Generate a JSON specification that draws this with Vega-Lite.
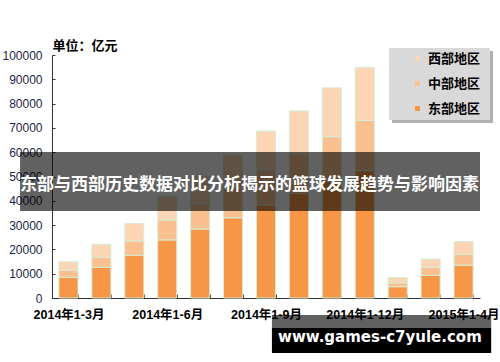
{
  "$schema": "https://vega.github.io/schema/vega-lite/v6.json",
  "width": 428,
  "height": 243,
  "autosize": {"type": "none"},
  "padding": {"left": 52, "top": 55, "right": 20, "bottom": 64},
  "background": "white",
  "config": {"view": {"stroke": null}, "font": "Liberation Sans, Noto Sans CJK SC"},
  "layer": [
    {
      "data": {"values": [{}]},
      "mark": {"type": "rect", "color": "#6f6f6f", "opacity": 0.55},
      "encoding": {
        "x": {"datum": 10.327, "type": "quantitative", "scale": {"domain": [0, 13], "nice": false, "zero": false}, "axis": null},
        "x2": {"datum": 13.395},
        "y": {"datum": 101646, "type": "quantitative", "scale": {"domain": [0, 100000], "nice": false}, "axis": null},
        "y2": {"datum": 72016}
      }
    },
    {
      "data": {"values": [{}]},
      "mark": {"type": "rect", "color": "#D9D9D9", "opacity": 1},
      "encoding": {
        "x": {"datum": 10.236, "type": "quantitative", "scale": {"domain": [0, 13], "nice": false, "zero": false}, "axis": null},
        "x2": {"datum": 13.304},
        "y": {"datum": 102881, "type": "quantitative", "scale": {"domain": [0, 100000], "nice": false}, "axis": null},
        "y2": {"datum": 73251}
      }
    },
    {
      "data": {
        "values": [
          {"period": "2014年1-3月", "region": "东部地区", "value": 8500},
          {"period": "2014年1-3月", "region": "中部地区", "value": 2900},
          {"period": "2014年1-3月", "region": "西部地区", "value": 3500},
          {"period": "2014年1-4月", "region": "东部地区", "value": 12600},
          {"period": "2014年1-4月", "region": "中部地区", "value": 4150},
          {"period": "2014年1-4月", "region": "西部地区", "value": 5350},
          {"period": "2014年1-5月", "region": "东部地区", "value": 17600},
          {"period": "2014年1-5月", "region": "中部地区", "value": 5850},
          {"period": "2014年1-5月", "region": "西部地区", "value": 7150},
          {"period": "2014年1-6月", "region": "东部地区", "value": 23900},
          {"period": "2014年1-6月", "region": "中部地区", "value": 8300},
          {"period": "2014年1-6月", "region": "西部地区", "value": 9500},
          {"period": "2014年1-7月", "region": "东部地区", "value": 28400},
          {"period": "2014年1-7月", "region": "中部地区", "value": 10400},
          {"period": "2014年1-7月", "region": "西部地区", "value": 11200},
          {"period": "2014年1-8月", "region": "东部地区", "value": 33000},
          {"period": "2014年1-8月", "region": "中部地区", "value": 12000},
          {"period": "2014年1-8月", "region": "西部地区", "value": 13800},
          {"period": "2014年1-9月", "region": "东部地区", "value": 38300},
          {"period": "2014年1-9月", "region": "中部地区", "value": 14400},
          {"period": "2014年1-9月", "region": "西部地区", "value": 16000},
          {"period": "2014年1-10月", "region": "东部地区", "value": 43000},
          {"period": "2014年1-10月", "region": "中部地区", "value": 16300},
          {"period": "2014年1-10月", "region": "西部地区", "value": 17700},
          {"period": "2014年1-11月", "region": "东部地区", "value": 48000},
          {"period": "2014年1-11月", "region": "中部地区", "value": 18400},
          {"period": "2014年1-11月", "region": "西部地区", "value": 20100},
          {"period": "2014年1-12月", "region": "东部地区", "value": 52400},
          {"period": "2014年1-12月", "region": "中部地区", "value": 20700},
          {"period": "2014年1-12月", "region": "西部地区", "value": 21800},
          {"period": "2015年1-2月", "region": "东部地区", "value": 4650},
          {"period": "2015年1-2月", "region": "中部地区", "value": 1650},
          {"period": "2015年1-2月", "region": "西部地区", "value": 2100},
          {"period": "2015年1-3月", "region": "东部地区", "value": 9300},
          {"period": "2015年1-3月", "region": "中部地区", "value": 3300},
          {"period": "2015年1-3月", "region": "西部地区", "value": 3400},
          {"period": "2015年1-4月", "region": "东部地区", "value": 13500},
          {"period": "2015年1-4月", "region": "中部地区", "value": 4500},
          {"period": "2015年1-4月", "region": "西部地区", "value": 5200}
        ]
      },
      "transform": [
        {"calculate": "indexof(['东部地区','中部地区','西部地区'], datum.region)", "as": "stackOrder"}
      ],
      "mark": {"type": "bar", "stroke": "#D5EDD5", "strokeWidth": 1},
      "encoding": {
        "x": {
          "field": "period",
          "type": "nominal",
          "sort": null,
          "scale": {"paddingInner": 0.42, "paddingOuter": 0.21},
          "axis": {
            "title": null,
            "labelAngle": 0,
            "tickBand": "extent",
            "labelExpr": "indexof(['2014年1-3月','2014年1-6月','2014年1-9月','2014年1-12月','2015年1-4月'], datum.value) >= 0 ? datum.value : ''",
            "labelOverlap": false,
            "labelFlush": false,
            "labelFont": "Liberation Sans, Noto Sans CJK SC",
            "labelFontWeight": "bold",
            "labelFontSize": 12.5,
            "labelColor": "black",
            "tickSize": -4,
            "labelPadding": 14,
            "domainColor": "#333333",
            "tickColor": "#333333",
            "grid": false
          }
        },
        "y": {
          "field": "value",
          "type": "quantitative",
          "stack": "zero",
          "scale": {"domain": [0, 100000], "nice": false},
          "axis": {
            "values": [0, 10000, 20000, 30000, 40000, 50000, 60000, 70000, 80000, 90000, 100000],
            "format": "d",
            "grid": false,
            "domainColor": "#333333",
            "tickColor": "#333333",
            "tickSize": -3,
            "labelPadding": 13,
            "labelFont": "Liberation Sans",
            "labelFontSize": 12,
            "labelColor": "#1b1f45",
            "title": "单位：亿元",
            "titleAngle": 0,
            "titleX": 0,
            "titleY": -10,
            "titleAlign": "left",
            "titleBaseline": "middle",
            "titleFont": "Noto Sans CJK SC",
            "titleFontSize": 13,
            "titleFontWeight": "bold",
            "titleColor": "black"
          }
        },
        "color": {
          "field": "region",
          "type": "nominal",
          "scale": {"domain": ["西部地区", "中部地区", "东部地区"], "range": ["#FCD5B5", "#FAC090", "#F79646"]},
          "legend": {
            "title": null,
            "orient": "none",
            "legendX": 359,
            "legendY": -3,
            "padding": 0,
            "symbolType": "square",
            "symbolSize": 25,
            "symbolStrokeWidth": 0,
            "labelFont": "Noto Sans CJK SC",
            "labelFontWeight": "bold",
            "labelFontSize": 13,
            "labelColor": "black",
            "labelOffset": 4,
            "rowPadding": 11
          }
        },
        "order": {"field": "stackOrder", "type": "quantitative"}
      }
    },
    {
      "data": {"values": [{}]},
      "mark": {"type": "rect", "color": "black", "opacity": 0.62},
      "encoding": {
        "x": {"datum": -0.97, "type": "quantitative", "scale": {"domain": [0, 13], "nice": false, "zero": false}, "axis": null},
        "x2": {"datum": 13},
        "y": {"datum": 60080, "type": "quantitative", "scale": {"domain": [0, 100000], "nice": false}, "axis": null},
        "y2": {"datum": 35800}
      }
    },
    {
      "data": {"values": [{}]},
      "mark": {"type": "text", "text": "东部与西部历史数据对比分析揭示的篮球发展趋势与影响因素", "color": "white", "font": "Noto Sans CJK SC", "fontWeight": "bold", "fontSize": 17, "align": "center", "baseline": "middle"},
      "encoding": {
        "x": {"datum": 6.0, "type": "quantitative", "scale": {"domain": [0, 13], "nice": false, "zero": false}, "axis": null},
        "y": {"datum": 46700, "type": "quantitative", "scale": {"domain": [0, 100000], "nice": false}, "axis": null}
      }
    },
    {
      "data": {"values": [{}]},
      "mark": {"type": "rect", "color": "black", "opacity": 0.62},
      "encoding": {
        "x": {"datum": 6.68, "type": "quantitative", "scale": {"domain": [0, 13], "nice": false, "zero": false}, "axis": null},
        "x2": {"datum": 13.34},
        "y": {"datum": -7000, "type": "quantitative", "scale": {"domain": [0, 100000], "nice": false}, "axis": null},
        "y2": {"datum": -12350}
      }
    },
    {
      "data": {"values": [{}]},
      "mark": {"type": "rect", "color": "black", "opacity": 1},
      "encoding": {
        "x": {"datum": 6.68, "type": "quantitative", "scale": {"domain": [0, 13], "nice": false, "zero": false}, "axis": null},
        "x2": {"datum": 13.34},
        "y": {"datum": -12350, "type": "quantitative", "scale": {"domain": [0, 100000], "nice": false}, "axis": null},
        "y2": {"datum": -22630}
      }
    },
    {
      "data": {"values": [{}]},
      "mark": {"type": "text", "text": "www.games-c7yule.com", "color": "white", "font": "DejaVu Sans", "fontWeight": "bold", "fontSize": 15, "align": "center", "baseline": "middle"},
      "encoding": {
        "x": {"datum": 9.96, "type": "quantitative", "scale": {"domain": [0, 13], "nice": false, "zero": false}, "axis": null},
        "y": {"datum": -16050, "type": "quantitative", "scale": {"domain": [0, 100000], "nice": false}, "axis": null}
      }
    }
  ],
  "resolve": {"scale": {"x": "independent", "y": "independent"}}
}
